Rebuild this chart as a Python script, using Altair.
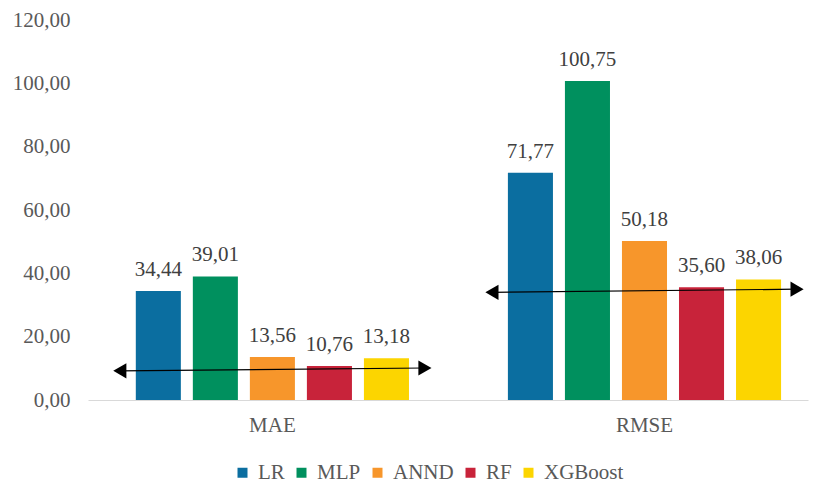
import altair as alt
import pandas as pd

# Error metrics per model
metrics = ["MAE", "RMSE"]
models = ["LR", "MLP", "ANND", "RF", "XGBoost"]
mae_values = [34.44, 39.01, 13.56, 10.76, 13.18]
rmse_values = [71.77, 100.75, 50.18, 35.60, 38.06]
colors = ["#0b6ea0", "#00905e", "#f7962b", "#c8233a", "#fcd500"]
y_ticks = [0, 20, 40, 60, 80, 100, 120]

# Trend arrows spanning each metric group: height at left and right end
arrow_start = [9.2, 34.0]
arrow_end = [10.1, 35.0]

rows = []
for metric, vals in zip(metrics, [mae_values, rmse_values]):
    for model, v in zip(models, vals):
        rows.append({"metric": metric, "model": model, "value": v})
df = pd.DataFrame(rows)
arrows = pd.DataFrame({"metric": metrics, "y0": arrow_start, "y1": arrow_end})

FONT = "'Liberation Serif', 'Times New Roman', serif"
comma_fmt = "replace(format(datum.value, '.2f'), '.', ',')"

x_scale = alt.Scale(domain=metrics, paddingInner=0.18, paddingOuter=0.0575, align=0.744)
y_scale = alt.Scale(domain=[0, 120], nice=False)

x_axis = alt.Axis(
    title=None, labelAngle=0, ticks=False, domainColor="#d9d9d9", domainWidth=1,
    labelFont=FONT, labelFontSize=21, labelColor="#595959", labelPadding=14,
)
y_axis = alt.Axis(
    title=None, values=y_ticks, grid=False, domain=False, ticks=False,
    labelFont=FONT, labelFontSize=21, labelColor="#595959", labelPadding=18,
    labelExpr=comma_fmt,
)

x_enc = alt.X("metric:N", scale=x_scale, sort=metrics, axis=x_axis)
y_enc = alt.Y("value:Q", scale=y_scale, axis=y_axis)
offset_enc = alt.XOffset(
    "model:N", sort=models,
    scale=alt.Scale(domain=models, paddingInner=0.21, paddingOuter=0.28),
)

bars = alt.Chart(df).mark_bar().encode(
    x=x_enc,
    xOffset=offset_enc,
    y=y_enc,
    color=alt.Color(
        "model:N", sort=models,
        scale=alt.Scale(domain=models, range=colors),
        legend=alt.Legend(
            title=None, orient="none", legendX=144, legendY=442,
            direction="horizontal", symbolType="square",
            symbolSize=100, symbolStrokeWidth=0, labelFont=FONT,
            labelFontSize=21, labelColor="#595959", columnPadding=6,
            labelOffset=5, padding=0, labelLimit=200,
        ),
    ),
)

labels = alt.Chart(df).mark_text(
    font=FONT, fontSize=21, color="#404040", dy=-15, baseline="alphabetic"
).transform_calculate(
    label="replace(format(datum.value, '.2f'), '.', ',')"
).encode(
    x=alt.X("metric:N", sort=metrics),
    xOffset=alt.XOffset("model:N", sort=models),
    y=alt.Y("value:Q"),
    text="label:N",
)

arrow_line = alt.Chart(arrows).mark_rule(color="black", strokeWidth=1.2).encode(
    x=alt.X("metric:N", sort=metrics, bandPosition=0),
    x2=alt.X2("metric:N", bandPosition=1),
    y=alt.Y("y0:Q"),
    y2=alt.Y2("y1:Q"),
)

left_heads = alt.Chart(arrows).mark_point(
    shape="triangle-left", filled=True, color="black", opacity=1, size=230
).encode(
    x=alt.X("metric:N", sort=metrics, bandPosition=0),
    y=alt.Y("y0:Q"),
)

right_heads = alt.Chart(arrows).mark_point(
    shape="triangle-right", filled=True, color="black", opacity=1, size=230
).encode(
    x=alt.X("metric:N", sort=metrics, bandPosition=1),
    y=alt.Y("y1:Q"),
)

chart = alt.layer(bars, labels, arrow_line, left_heads, right_heads).properties(
    width=720,
    height=380,
    autosize=alt.AutoSizeParams(type="none"),
    padding={"left": 88, "top": 20, "right": 12, "bottom": 81},
    background="white",
).configure_view(
    stroke=None
).configure_legend(
    labelFont=FONT, labelFontSize=21, labelColor="#595959"
).configure_axis(
    labelFont=FONT
).configure_text(
    font=FONT
)

chart.save("out.html", embed_options={"renderer": "svg", "actions": False})
